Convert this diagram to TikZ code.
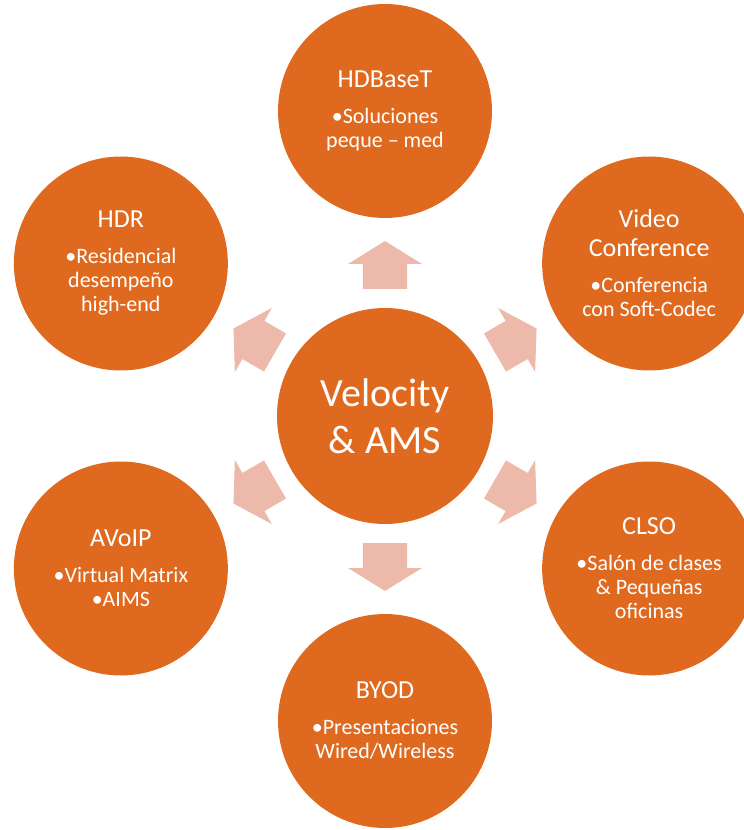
\documentclass[tikz,border=0pt]{standalone}
\usepackage{fontspec}
\setmainfont{Carlito}
\usetikzlibrary{positioning}
\definecolor{HubOrange}{RGB}{223,106,31}
\definecolor{PointerPink}{RGB}{237,185,170}

\tikzset{
    hub/.style={circle, fill=HubOrange, text=white, minimum size=216pt, inner sep=0pt,
        align=center, font=\fontsize{40}{47}\selectfont},
    spoke/.style={circle, fill=HubOrange, text=white, minimum size=214pt, inner sep=0pt,
        align=center, font=\fontsize{22}{24}\selectfont},
    pointer/.style={fill=PointerPink}
}
\newcommand{\spoketitle}[1]{{\fontsize{26}{29}\selectfont #1}}

\begin{document}
\begin{tikzpicture}[x=1pt, y=1pt]
    \useasboundingbox (-385,-414) rectangle (359,416);

    % Center node
    \node[hub] (hub) at (0,0) {Velocity\\\& AMS};

    % Block arrows pointing outwards
    \foreach \ang in {90,30,-30,-90,-150,150}
        \fill[pointer, rotate=\ang] (127,-22) -- (152,-22) -- (152,-37) -- (175,0)
            -- (152,37) -- (152,22) -- (127,22) -- cycle;

    % Outer circles
    \node[spoke] (hdbaset) at (90:305) {\spoketitle{HDBaseT}\\[12pt]\textbullet Soluciones\\peque – med};
    \node[spoke] (video) at (30:305) {\spoketitle{Video}\\[5pt]\spoketitle{Conference}\\[12pt]\textbullet Conferencia\\con Soft-Codec};
    \node[spoke] (clso) at (-30:305) {\spoketitle{CLSO}\\[12pt]\textbullet Salón de clases\\\& Pequeñas\\oficinas};
    \node[spoke] (byod) at (-90:305) {\spoketitle{BYOD}\\[12pt]\textbullet Presentaciones\\Wired/Wireless};
    \node[spoke] (avoip) at (-150:305) {\spoketitle{AVoIP}\\[12pt]\textbullet Virtual Matrix\\\textbullet AIMS};
    \node[spoke] (hdr) at (150:305) {\spoketitle{HDR}\\[12pt]\textbullet Residencial\\desempeño\\high-end};
\end{tikzpicture}
\end{document}
